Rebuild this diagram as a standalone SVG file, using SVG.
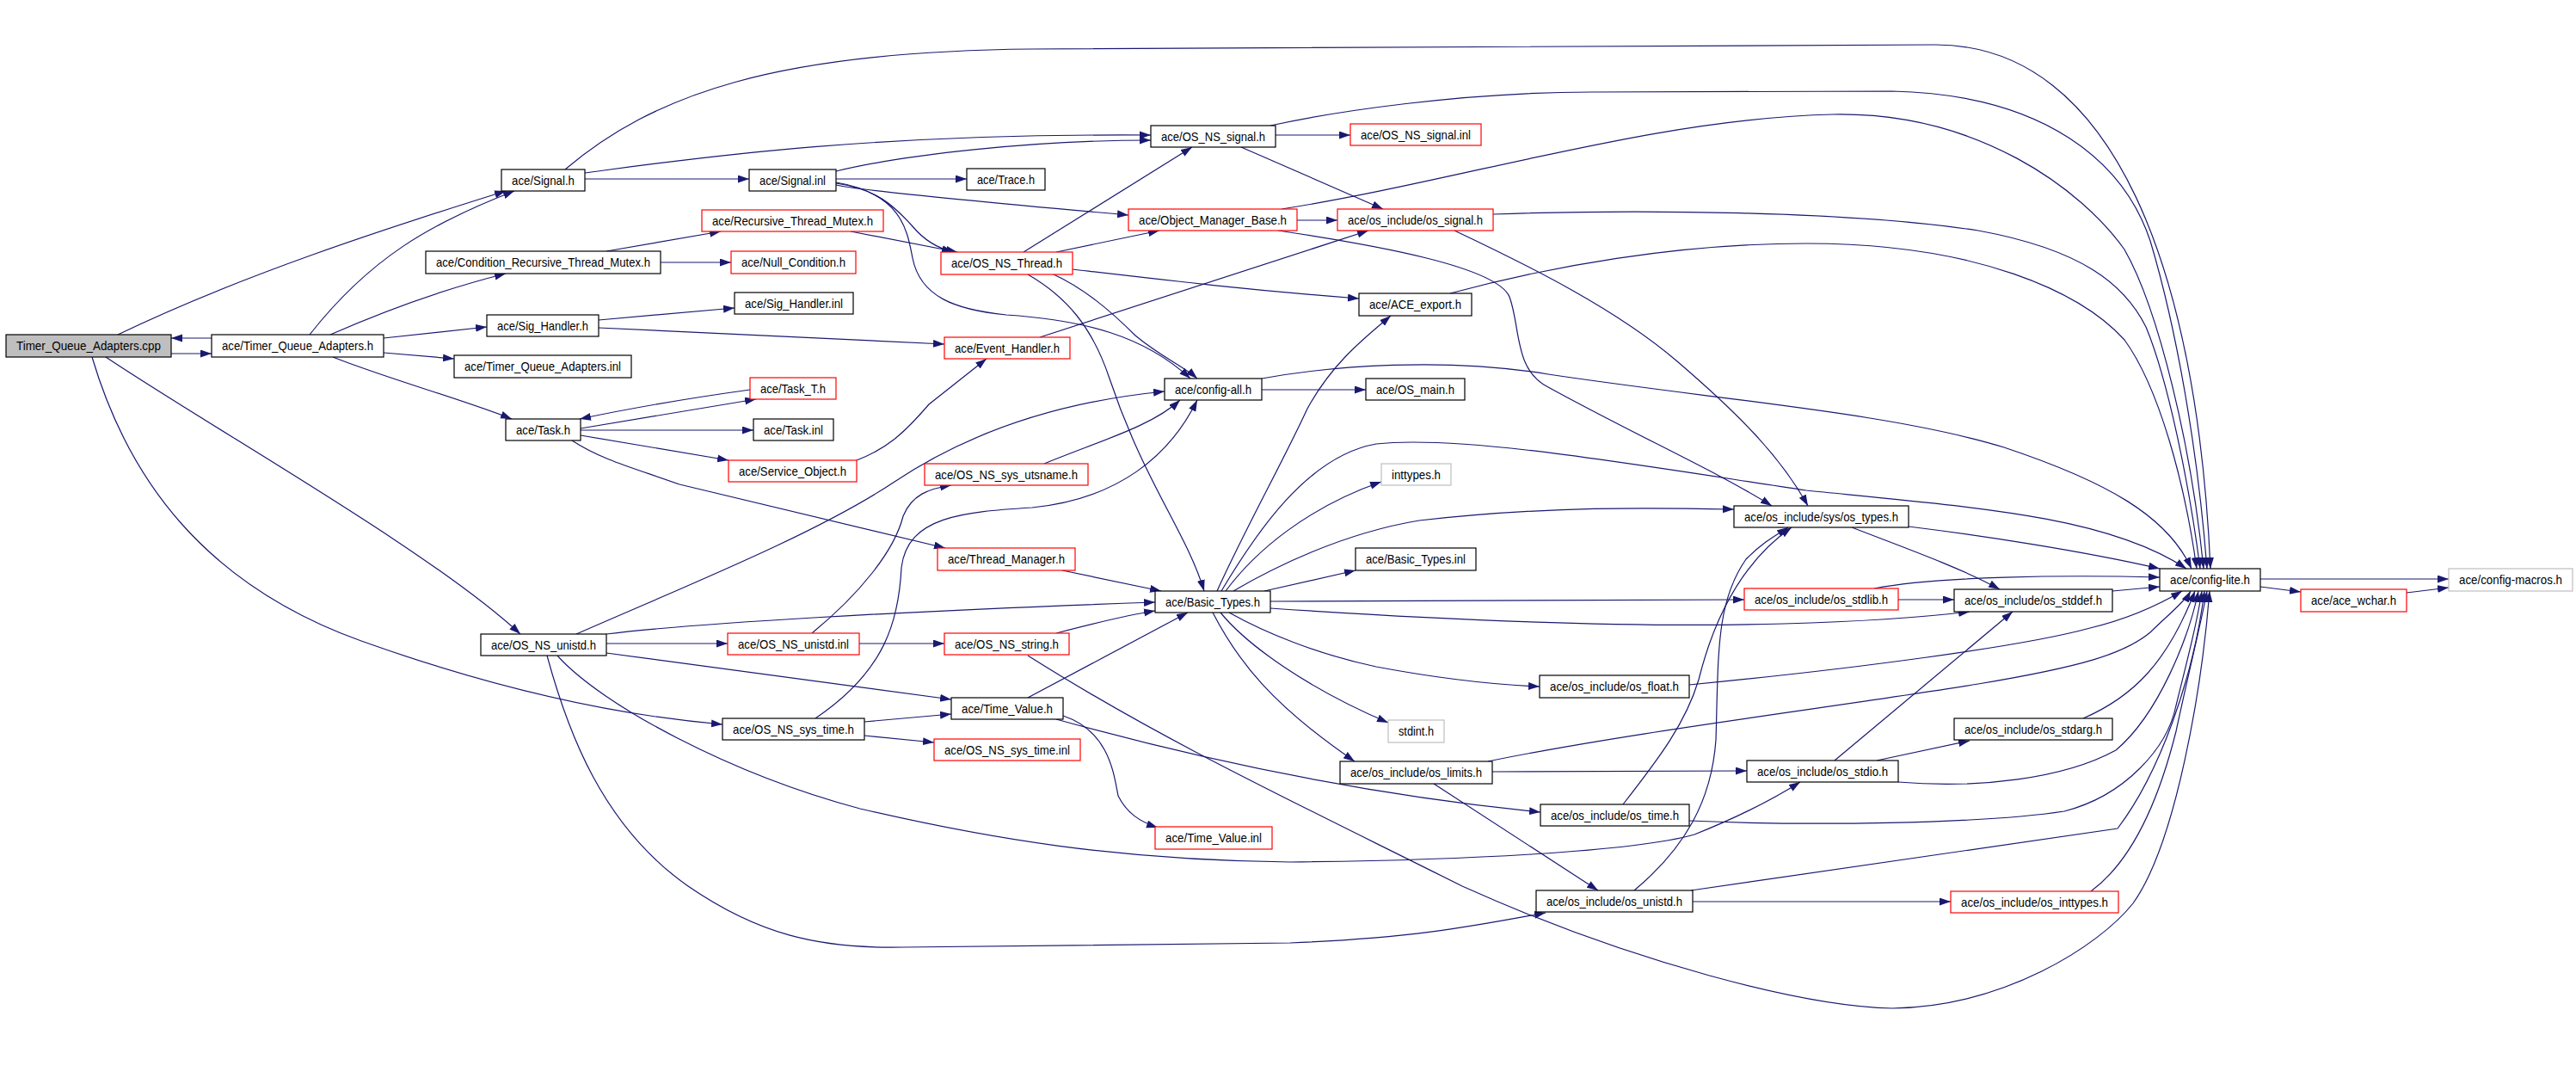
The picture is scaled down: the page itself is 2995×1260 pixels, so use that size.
<svg xmlns="http://www.w3.org/2000/svg" width="2995" height="1260" viewBox="0 0 2995 1260">
<defs>
<style>
.node rect{fill:#fff;stroke:#000;stroke-width:1.2}
.red rect{stroke:#ff0000}
.gray rect{stroke:#bfbfbf}
.root rect{fill:#bfbfbf}
.node text{font-family:'Liberation Sans',Arial,sans-serif;font-size:15px;text-anchor:middle;fill:#000}
#edges path{fill:none;stroke:#191970;stroke-width:1.2;marker-end:url(#arr)}
</style>
<marker id="arr" markerUnits="userSpaceOnUse" markerWidth="14" markerHeight="10" refX="13" refY="4.5" orient="auto"><path d="M0,0 L13,4.5 L0,9 z" fill="#191970"/></marker>
</defs>
<rect width="2995" height="1260" fill="#fff"/>
<g id="edges">
<path d="M199,411 L246,411"/>
<path d="M246,393 L199,393"/>
<path d="M137,389 C 280,320 450,265 588,222"/>
<path d="M360,389 C 430,300 500,260 598,222"/>
<path d="M384,389 C 450,360 520,335 588,318"/>
<path d="M446,393 L566,380"/>
<path d="M446,410 L528,417"/>
<path d="M387,415 C 450,440 540,465 595,487"/>
<path d="M123,415 C 250,500 500,640 605,737"/>
<path d="M107,415 C 150,560 240,680 420,745 C 560,795 700,830 840,842"/>
<path d="M657,197 C 760,110 900,60 1200,57 L2250,52 C 2460,52 2555,320 2570,661"/>
<path d="M680,201 C 800,185 1000,155 1338,157"/>
<path d="M680,208 L871,208"/>
<path d="M972,199 C 1050,180 1200,163 1338,163"/>
<path d="M972,208 L1124,208"/>
<path d="M972,215 C 1000,222 1200,240 1312,250"/>
<path d="M972,213 C 1020,220 1040,240 1060,262 C 1075,280 1090,288 1108,293"/>
<path d="M972,212 C 1050,225 1055,270 1061,300 C 1070,345 1110,360 1170,366 C 1260,372 1330,390 1384,440"/>
<path d="M705,292 L838,269"/>
<path d="M768,305 L850,305"/>
<path d="M989,269 L1113,293"/>
<path d="M696,372 L854,358"/>
<path d="M696,381 L1098,400"/>
<path d="M872,453 C 800,463 740,473 674,487"/>
<path d="M675,498 L879,464"/>
<path d="M675,500 L876,500"/>
<path d="M675,506 L847,535"/>
<path d="M665,512 C 700,535 740,545 790,563 L1099,637"/>
<path d="M996,535 C 1030,522 1050,505 1080,470 L1147,417"/>
<path d="M1209,392 L1591,268"/>
<path d="M1508,256 L1555,256"/>
<path d="M1490,243 C 1700,210 1920,138 2131,133 C 2300,130 2420,220 2470,290 C 2510,360 2548,520 2562,661"/>
<path d="M1486,268 C 1600,285 1740,310 1755,345 C 1768,380 1760,430 1800,450 C 1900,505 2000,550 2060,588"/>
<path d="M1190,293 L1386,171"/>
<path d="M1228,293 L1348,268"/>
<path d="M1247,313 C 1350,325 1450,337 1580,347"/>
<path d="M1223,318 C 1260,335 1290,360 1320,390 C 1350,415 1375,425 1392,440"/>
<path d="M1195,319 C 1240,345 1270,380 1290,440 C 1330,560 1380,620 1400,687"/>
<path d="M1467,453 L1588,453"/>
<path d="M1467,440 C 1550,425 1680,415 1800,435 C 2000,465 2200,480 2330,520 C 2450,560 2520,600 2548,661"/>
<path d="M1686,341 C 1800,310 1950,283 2100,283 C 2300,283 2420,340 2470,395 C 2510,450 2540,560 2554,661"/>
<path d="M1736,249 C 1900,243 2150,245 2300,268 C 2420,290 2470,330 2495,380 C 2520,440 2545,560 2558,661"/>
<path d="M1477,146 C 1550,130 1700,107 1850,107 L2200,106 C 2380,110 2470,190 2500,280 C 2530,380 2555,520 2566,661"/>
<path d="M1483,157 L1570,157"/>
<path d="M1443,171 L1608,243"/>
<path d="M1691,268 C 1780,310 1880,360 1950,420 C 2020,480 2070,530 2102,588"/>
<path d="M1415,687 C 1450,610 1490,540 1520,475 C 1550,420 1590,390 1617,367"/>
<path d="M1420,687 C 1460,620 1520,530 1600,516 C 1700,505 1900,540 2100,570 C 2300,590 2450,600 2542,661"/>
<path d="M1425,687 C 1460,640 1520,590 1606,560"/>
<path d="M1434,687 C 1480,660 1560,620 1650,605 C 1800,588 1920,590 2016,592"/>
<path d="M1470,687 L1576,663"/>
<path d="M1477,699 L2028,697"/>
<path d="M1477,707 C 1700,722 1900,730 2074,725 C 2180,722 2240,717 2290,711"/>
<path d="M1429,712 C 1470,735 1530,760 1600,775 C 1680,790 1740,796 1790,798"/>
<path d="M1419,712 C 1450,750 1520,800 1614,840"/>
<path d="M1410,712 C 1440,770 1480,820 1575,885"/>
<path d="M1235,663 L1350,687"/>
<path d="M705,737 C 800,725 1050,710 1343,700"/>
<path d="M1228,736 C 1270,725 1310,715 1343,710"/>
<path d="M1195,811 L1381,712"/>
<path d="M705,748 L846,748"/>
<path d="M999,748 L1098,748"/>
<path d="M705,759 L1106,813"/>
<path d="M670,737 C 800,680 950,620 1040,560 C 1100,520 1200,470 1354,455"/>
<path d="M948,835 C 1030,780 1045,720 1048,660 C 1055,600 1120,595 1200,590 C 1300,580 1360,530 1392,465"/>
<path d="M1214,539 C 1280,512 1340,495 1372,465"/>
<path d="M944,736 C 1000,690 1040,640 1050,600 C 1060,575 1080,568 1106,564"/>
<path d="M1005,839 L1106,830"/>
<path d="M1005,855 L1086,863"/>
<path d="M1236,832 C 1290,850 1295,900 1300,925 C 1310,945 1325,955 1346,962"/>
<path d="M1228,836 C 1350,870 1550,920 1791,944"/>
<path d="M1195,762 C 1350,860 1500,930 1700,1030 C 1900,1120 2100,1170 2200,1172 C 2330,1170 2440,1100 2480,1050 C 2530,980 2560,800 2569,687"/>
<path d="M636,762 C 660,850 700,960 800,1030 C 880,1085 950,1103 1050,1101 L1500,1096 C 1650,1090 1720,1075 1797,1061"/>
<path d="M648,762 C 700,820 850,900 1000,940 C 1150,975 1300,1000 1500,1002 C 1700,1000 1900,990 1970,970 C 2020,950 2060,930 2093,909"/>
<path d="M1735,897 L2031,896"/>
<path d="M1667,911 L1858,1035"/>
<path d="M1730,885 C 1900,850 2150,820 2300,795 C 2420,775 2470,760 2500,735 C 2520,715 2540,700 2547,687"/>
<path d="M1887,935 C 1930,880 1960,840 1975,790 C 1995,710 2030,650 2083,613"/>
<path d="M1900,1035 C 1960,985 1990,930 1995,860 C 1998,760 1995,700 2030,650 C 2050,630 2065,622 2079,613"/>
<path d="M1968,1048 L2268,1048"/>
<path d="M1966,1035 L2462,963 C 2510,900 2550,790 2563,687"/>
<path d="M2431,1036 C 2480,1000 2510,930 2530,850 C 2545,780 2560,720 2566,687"/>
<path d="M1964,954 C 2100,960 2300,958 2400,943 C 2470,925 2520,870 2530,820 C 2545,760 2555,720 2560,687"/>
<path d="M2207,909 C 2300,917 2400,905 2460,872 C 2510,830 2545,740 2556,687"/>
<path d="M2182,884 L2290,861"/>
<path d="M2133,884 L2340,711"/>
<path d="M2422,835 C 2480,810 2520,770 2552,687"/>
<path d="M1964,796 C 2150,778 2350,752 2430,730 C 2480,718 2515,700 2537,687"/>
<path d="M2179,684 C 2250,670 2400,668 2511,671"/>
<path d="M2207,697 L2272,697"/>
<path d="M2219,612 C 2300,622 2420,640 2511,661"/>
<path d="M2153,613 C 2210,635 2280,660 2325,685"/>
<path d="M2456,687 L2511,682"/>
<path d="M2628,673 L2847,673"/>
<path d="M2628,682 L2675,688"/>
<path d="M2798,689 L2847,683"/>
</g>
<g id="n1" class="node root"><rect x="7" y="389" width="192" height="26"/><text x="103" y="407.3" textLength="168" lengthAdjust="spacingAndGlyphs">Timer_Queue_Adapters.cpp</text></g>
<g id="n2" class="node"><rect x="246" y="389" width="200" height="26"/><text x="346" y="407.3" textLength="176" lengthAdjust="spacingAndGlyphs">ace/Timer_Queue_Adapters.h</text></g>
<g id="n3" class="node"><rect x="583" y="197" width="97" height="25"/><text x="631.5" y="214.8" textLength="73" lengthAdjust="spacingAndGlyphs">ace/Signal.h</text></g>
<g id="n4" class="node"><rect x="495" y="292" width="273" height="26"/><text x="631.5" y="310.3" textLength="249" lengthAdjust="spacingAndGlyphs">ace/Condition_Recursive_Thread_Mutex.h</text></g>
<g id="n5" class="node"><rect x="566" y="366" width="130" height="25"/><text x="631" y="383.8" textLength="106" lengthAdjust="spacingAndGlyphs">ace/Sig_Handler.h</text></g>
<g id="n6" class="node"><rect x="528" y="413" width="206" height="26"/><text x="631" y="431.3" textLength="182" lengthAdjust="spacingAndGlyphs">ace/Timer_Queue_Adapters.inl</text></g>
<g id="n7" class="node"><rect x="588" y="487" width="87" height="25"/><text x="631.5" y="504.8" textLength="63" lengthAdjust="spacingAndGlyphs">ace/Task.h</text></g>
<g id="n8" class="node"><rect x="559" y="737" width="146" height="25"/><text x="632" y="754.8" textLength="122" lengthAdjust="spacingAndGlyphs">ace/OS_NS_unistd.h</text></g>
<g id="n9" class="node"><rect x="1338" y="146" width="145" height="25"/><text x="1410.5" y="163.8" textLength="121" lengthAdjust="spacingAndGlyphs">ace/OS_NS_signal.h</text></g>
<g id="n10" class="node"><rect x="871" y="197" width="101" height="25"/><text x="921.5" y="214.8" textLength="77" lengthAdjust="spacingAndGlyphs">ace/Signal.inl</text></g>
<g id="n11" class="node"><rect x="1124" y="196" width="91" height="25"/><text x="1169.5" y="213.8" textLength="67" lengthAdjust="spacingAndGlyphs">ace/Trace.h</text></g>
<g id="n12" class="node red"><rect x="816" y="244" width="211" height="25"/><text x="921.5" y="261.8" textLength="187" lengthAdjust="spacingAndGlyphs">ace/Recursive_Thread_Mutex.h</text></g>
<g id="n13" class="node red"><rect x="1312" y="243" width="196" height="25"/><text x="1410" y="260.8" textLength="172" lengthAdjust="spacingAndGlyphs">ace/Object_Manager_Base.h</text></g>
<g id="n14" class="node red"><rect x="850" y="292" width="145" height="26"/><text x="922.5" y="310.3" textLength="121" lengthAdjust="spacingAndGlyphs">ace/Null_Condition.h</text></g>
<g id="n15" class="node red"><rect x="1094" y="293" width="153" height="26"/><text x="1170.5" y="311.3" textLength="129" lengthAdjust="spacingAndGlyphs">ace/OS_NS_Thread.h</text></g>
<g id="n16" class="node"><rect x="854" y="340" width="138" height="25"/><text x="923" y="357.8" textLength="114" lengthAdjust="spacingAndGlyphs">ace/Sig_Handler.inl</text></g>
<g id="n17" class="node red"><rect x="1098" y="392" width="146" height="25"/><text x="1171" y="409.8" textLength="122" lengthAdjust="spacingAndGlyphs">ace/Event_Handler.h</text></g>
<g id="n18" class="node"><rect x="1354" y="440" width="113" height="25"/><text x="1410.5" y="457.8" textLength="89" lengthAdjust="spacingAndGlyphs">ace/config-all.h</text></g>
<g id="n19" class="node red"><rect x="872" y="439" width="100" height="25"/><text x="922" y="456.8" textLength="76" lengthAdjust="spacingAndGlyphs">ace/Task_T.h</text></g>
<g id="n20" class="node"><rect x="876" y="487" width="93" height="25"/><text x="922.5" y="504.8" textLength="69" lengthAdjust="spacingAndGlyphs">ace/Task.inl</text></g>
<g id="n21" class="node red"><rect x="847" y="535" width="149" height="25"/><text x="921.5" y="552.8" textLength="125" lengthAdjust="spacingAndGlyphs">ace/Service_Object.h</text></g>
<g id="n22" class="node red"><rect x="1075" y="539" width="190" height="25"/><text x="1170" y="556.8" textLength="166" lengthAdjust="spacingAndGlyphs">ace/OS_NS_sys_utsname.h</text></g>
<g id="n23" class="node red"><rect x="1090" y="637" width="160" height="26"/><text x="1170" y="655.3" textLength="136" lengthAdjust="spacingAndGlyphs">ace/Thread_Manager.h</text></g>
<g id="n24" class="node"><rect x="1343" y="687" width="134" height="25"/><text x="1410" y="704.8" textLength="110" lengthAdjust="spacingAndGlyphs">ace/Basic_Types.h</text></g>
<g id="n25" class="node red"><rect x="846" y="736" width="153" height="25"/><text x="922.5" y="753.8" textLength="129" lengthAdjust="spacingAndGlyphs">ace/OS_NS_unistd.inl</text></g>
<g id="n26" class="node red"><rect x="1098" y="736" width="145" height="25"/><text x="1170.5" y="753.8" textLength="121" lengthAdjust="spacingAndGlyphs">ace/OS_NS_string.h</text></g>
<g id="n27" class="node"><rect x="1106" y="811" width="130" height="25"/><text x="1171" y="828.8" textLength="106" lengthAdjust="spacingAndGlyphs">ace/Time_Value.h</text></g>
<g id="n28" class="node"><rect x="840" y="835" width="165" height="25"/><text x="922.5" y="852.8" textLength="141" lengthAdjust="spacingAndGlyphs">ace/OS_NS_sys_time.h</text></g>
<g id="n29" class="node red"><rect x="1086" y="859" width="170" height="25"/><text x="1171" y="876.8" textLength="146" lengthAdjust="spacingAndGlyphs">ace/OS_NS_sys_time.inl</text></g>
<g id="n30" class="node red"><rect x="1343" y="961" width="136" height="26"/><text x="1411" y="979.3" textLength="112" lengthAdjust="spacingAndGlyphs">ace/Time_Value.inl</text></g>
<g id="n31" class="node red"><rect x="1570" y="144" width="152" height="25"/><text x="1646" y="161.8" textLength="128" lengthAdjust="spacingAndGlyphs">ace/OS_NS_signal.inl</text></g>
<g id="n32" class="node red"><rect x="1555" y="243" width="181" height="25"/><text x="1645.5" y="260.8" textLength="157" lengthAdjust="spacingAndGlyphs">ace/os_include/os_signal.h</text></g>
<g id="n33" class="node"><rect x="1580" y="341" width="131" height="26"/><text x="1645.5" y="359.3" textLength="107" lengthAdjust="spacingAndGlyphs">ace/ACE_export.h</text></g>
<g id="n34" class="node"><rect x="1588" y="440" width="115" height="25"/><text x="1645.5" y="457.8" textLength="91" lengthAdjust="spacingAndGlyphs">ace/OS_main.h</text></g>
<g id="n35" class="node gray"><rect x="1606" y="539" width="81" height="25"/><text x="1646.5" y="556.8" textLength="57" lengthAdjust="spacingAndGlyphs">inttypes.h</text></g>
<g id="n36" class="node"><rect x="2016" y="588" width="203" height="25"/><text x="2117.5" y="605.8" textLength="179" lengthAdjust="spacingAndGlyphs">ace/os_include/sys/os_types.h</text></g>
<g id="n37" class="node"><rect x="1576" y="637" width="140" height="26"/><text x="1646" y="655.3" textLength="116" lengthAdjust="spacingAndGlyphs">ace/Basic_Types.inl</text></g>
<g id="n38" class="node red"><rect x="2028" y="684" width="179" height="25"/><text x="2117.5" y="701.8" textLength="155" lengthAdjust="spacingAndGlyphs">ace/os_include/os_stdlib.h</text></g>
<g id="n39" class="node"><rect x="1790" y="785" width="174" height="26"/><text x="1877" y="803.3" textLength="150" lengthAdjust="spacingAndGlyphs">ace/os_include/os_float.h</text></g>
<g id="n40" class="node gray"><rect x="1614" y="837" width="65" height="26"/><text x="1646.5" y="855.3" textLength="41" lengthAdjust="spacingAndGlyphs">stdint.h</text></g>
<g id="n41" class="node"><rect x="1558" y="885" width="177" height="26"/><text x="1646.5" y="903.3" textLength="153" lengthAdjust="spacingAndGlyphs">ace/os_include/os_limits.h</text></g>
<g id="n42" class="node"><rect x="2031" y="884" width="176" height="25"/><text x="2119" y="901.8" textLength="152" lengthAdjust="spacingAndGlyphs">ace/os_include/os_stdio.h</text></g>
<g id="n43" class="node"><rect x="1791" y="935" width="173" height="25"/><text x="1877.5" y="952.8" textLength="149" lengthAdjust="spacingAndGlyphs">ace/os_include/os_time.h</text></g>
<g id="n44" class="node"><rect x="1786" y="1035" width="182" height="25"/><text x="1877" y="1052.8" textLength="158" lengthAdjust="spacingAndGlyphs">ace/os_include/os_unistd.h</text></g>
<g id="n45" class="node"><rect x="2511" y="661" width="117" height="26"/><text x="2569.5" y="679.3" textLength="93" lengthAdjust="spacingAndGlyphs">ace/config-lite.h</text></g>
<g id="n46" class="node gray"><rect x="2847" y="661" width="144" height="26"/><text x="2919" y="679.3" textLength="120" lengthAdjust="spacingAndGlyphs">ace/config-macros.h</text></g>
<g id="n47" class="node red"><rect x="2675" y="685" width="123" height="26"/><text x="2736.5" y="703.3" textLength="99" lengthAdjust="spacingAndGlyphs">ace/ace_wchar.h</text></g>
<g id="n48" class="node"><rect x="2272" y="685" width="184" height="26"/><text x="2364" y="703.3" textLength="160" lengthAdjust="spacingAndGlyphs">ace/os_include/os_stddef.h</text></g>
<g id="n49" class="node"><rect x="2272" y="835" width="184" height="25"/><text x="2364" y="852.8" textLength="160" lengthAdjust="spacingAndGlyphs">ace/os_include/os_stdarg.h</text></g>
<g id="n50" class="node red"><rect x="2268" y="1036" width="195" height="25"/><text x="2365.5" y="1053.8" textLength="171" lengthAdjust="spacingAndGlyphs">ace/os_include/os_inttypes.h</text></g>
</svg>
